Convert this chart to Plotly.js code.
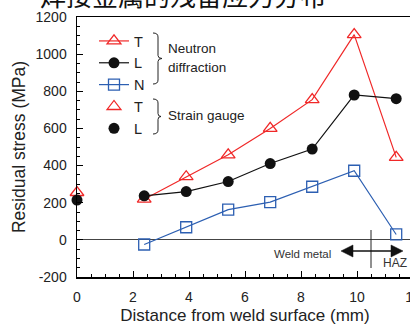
<!DOCTYPE html>
<html>
<head>
<meta charset="utf-8">
<script src="https://cdn.plot.ly/plotly-3.0.1.min.js"></script>
<style>
html, body { margin: 0; padding: 0; overflow: hidden; background: #fff; }
#chart { width: 450px; height: 325px; }
</style>
</head>
<body>
<div id="chart"></div>
<script>
// ---- data ----
const depthND = [2.4, 3.9, 5.4, 6.9, 8.4, 9.9, 11.4];   // neutron diffraction positions (mm)
const ndT = [219, 340, 458, 600, 755, 1105, 444];        // transverse (MPa)
const ndL = [237, 260, 314, 411, 489, 780, 760];         // longitudinal (MPa)
const ndN = [-25, 68, 163, 203, 286, 372, 29];           // normal (MPa)
const depthSG = [0];                                     // strain gauge position (mm)
const sgT = [255];
const sgL = [214];
const seriesNames = ['T', 'L', 'N', 'T', 'L'];
const yTickVals = [-200, 0, 200, 400, 600, 800, 1000, 1200];
const yTickText = ['-200', '0', '200', '400', '600', '800', '1000', '1200'];
const xTickVals = [0, 2, 4, 6, 8, 10, 12];
const xTickText = ['0', '2', '4', '6', '8', '10', '12'];
const boundaryX = 10.5; // weld metal / HAZ boundary (mm)

const RED = '#f02828', BLUE = '#2c5fb2', BLACK = '#111';
const FONT = 'Liberation Sans, Arial, sans-serif';
const TXT = '#222';

// plot area in px: left 77, right 413, top 17, bottom 277
const PL = 77, PR = 413, PT = 17, PB = 277;
const px = x => (x - PL) / (PR - PL);
const py = y => (PB - y) / (PB - PT);
const P = (x, y) => px(x).toFixed(4) + ',' + py(y).toFixed(4);

function brace(x0, x1, xt, yTop, ym, yBot) {
  return 'M' + P(x0, yTop) + ' Q' + P(x1, yTop) + ' ' + P(x1, yTop + 4) +
         ' L' + P(x1, ym - 3) + ' Q' + P(x1, ym) + ' ' + P(xt, ym) +
         ' Q' + P(x1, ym) + ' ' + P(x1, ym + 3) +
         ' L' + P(x1, yBot - 4) + ' Q' + P(x1, yBot) + ' ' + P(x0, yBot);
}

const traces = [
  { x: depthND, y: ndT, name: seriesNames[0], mode: 'lines+markers', cliponaxis: false,
    line: { color: RED, width: 1.2 },
    marker: { symbol: 'triangle-up-open', size: 12, color: RED, line: { width: 1.3 } } },
  { x: depthND, y: ndL, name: seriesNames[1], mode: 'lines+markers', cliponaxis: false,
    line: { color: BLACK, width: 1.2 },
    marker: { symbol: 'circle', size: 11, color: BLACK } },
  { x: depthND, y: ndN, name: seriesNames[2], mode: 'lines+markers', cliponaxis: false,
    line: { color: BLUE, width: 1.2 },
    marker: { symbol: 'square-open', size: 11, color: BLUE, line: { width: 1.3 } } },
  { x: depthSG, y: sgT, name: seriesNames[3], mode: 'markers', cliponaxis: false,
    marker: { symbol: 'triangle-up-open', size: 12, color: RED, line: { width: 1.3 } } },
  { x: depthSG, y: sgL, name: seriesNames[4], mode: 'markers', cliponaxis: false,
    marker: { symbol: 'circle', size: 11, color: BLACK } }
];

const layout = {
  width: 450, height: 325,
  margin: { l: PL, r: 450 - PR, t: PT, b: 325 - PB, pad: 0 },
  paper_bgcolor: '#fff', plot_bgcolor: '#fff',
  font: { family: FONT, color: TXT, size: 13.5 },
  showlegend: true,
  legend: {
    x: px(94), y: py(25), xanchor: 'left', yanchor: 'top',
    bgcolor: 'rgba(0,0,0,0)', borderwidth: 0,
    font: { family: FONT, size: 14.5, color: TXT },
    itemwidth: 30, traceorder: 'normal'
  },
  xaxis: {
    range: [0, 12], tickmode: 'array', tickvals: xTickVals, ticktext: xTickText,
    ticks: 'inside', ticklen: 6, tickwidth: 1, tickcolor: '#000', ticklabelstandoff: 7,
    minor: { tickmode: 'linear', tick0: 0, dtick: 0.5, ticks: 'inside', ticklen: 3, tickwidth: 1, tickcolor: '#000' },
    showline: true, linecolor: '#000', linewidth: 1.5, mirror: true,
    showgrid: false, zeroline: false,
    tickfont: { family: FONT, size: 14, color: TXT },
    title: { text: 'Distance from weld surface (mm)', font: { family: FONT, size: 17, color: TXT }, standoff: 5 }
  },
  yaxis: {
    range: [-200, 1200], tickmode: 'array', tickvals: yTickVals, ticktext: yTickText,
    ticks: 'inside', ticklen: 6, tickwidth: 1, tickcolor: '#000', ticklabelstandoff: 6,
    minor: { tickmode: 'linear', tick0: 0, dtick: 50, ticks: 'inside', ticklen: 3, tickwidth: 1, tickcolor: '#000' },
    showline: true, linecolor: '#000', linewidth: 1.5, mirror: true,
    showgrid: false, zeroline: true, zerolinecolor: '#444', zerolinewidth: 1,
    tickfont: { family: FONT, size: 14, color: TXT },
    title: { text: 'Residual stress (MPa)', font: { family: FONT, size: 17.5, color: TXT }, standoff: 5 }
  },
  shapes: [
    { type: 'path', xref: 'paper', yref: 'paper', path: brace(153, 158, 162, 33, 58.5, 84), line: { color: '#222', width: 1 } },
    { type: 'path', xref: 'paper', yref: 'paper', path: brace(153, 158, 161, 99, 116.5, 134), line: { color: '#222', width: 1 } },
    // weld metal / HAZ arrows
    { type: 'line', xref: 'x', yref: 'paper', x0: boundaryX, x1: boundaryX, y0: py(230), y1: py(268), line: { color: '#222', width: 1 } },
    { type: 'line', xref: 'paper', yref: 'paper', x0: px(350), x1: px(394), y0: py(251), y1: py(251), line: { color: '#111', width: 1.3 } },
    { type: 'path', xref: 'paper', yref: 'paper', path: 'M' + P(341, 251) + ' L' + P(353, 245) + ' L' + P(353, 257) + ' Z', fillcolor: '#111', line: { color: '#111', width: 0.5 } },
    { type: 'path', xref: 'paper', yref: 'paper', path: 'M' + P(403, 251) + ' L' + P(391, 245) + ' L' + P(391, 257) + ' Z', fillcolor: '#111', line: { color: '#111', width: 0.5 } }
  ],
  annotations: [
    { xref: 'paper', yref: 'paper', x: px(166), y: py(48), xanchor: 'left', yanchor: 'middle', showarrow: false,
      text: 'Neutron', font: { family: FONT, size: 13.5, color: TXT } },
    { xref: 'paper', yref: 'paper', x: px(166), y: py(67), xanchor: 'left', yanchor: 'middle', showarrow: false,
      text: 'diffraction', font: { family: FONT, size: 13.5, color: TXT } },
    { xref: 'paper', yref: 'paper', x: px(166), y: py(115), xanchor: 'left', yanchor: 'middle', showarrow: false,
      text: 'Strain gauge', font: { family: FONT, size: 13.5, color: TXT } },
    { xref: 'paper', yref: 'paper', x: px(272), y: py(254), xanchor: 'left', yanchor: 'middle', showarrow: false,
      text: 'Weld metal', font: { family: FONT, size: 11.5, color: '#333' } },
    { xref: 'paper', yref: 'paper', x: px(381), y: py(263), xanchor: 'left', yanchor: 'middle', showarrow: false,
      text: 'HAZ', font: { family: FONT, size: 12, color: '#333' } },
    { xref: 'paper', yref: 'paper', x: px(38), y: py(15), xanchor: 'left', yanchor: 'bottom', showarrow: false,
      text: '焊接金属的残留应力分布', font: { family: 'Noto Sans CJK SC', size: 26, color: '#111' } }
  ]
};

Plotly.newPlot('chart', traces, layout, { displayModeBar: false, staticPlot: true });
</script>
</body>
</html>
